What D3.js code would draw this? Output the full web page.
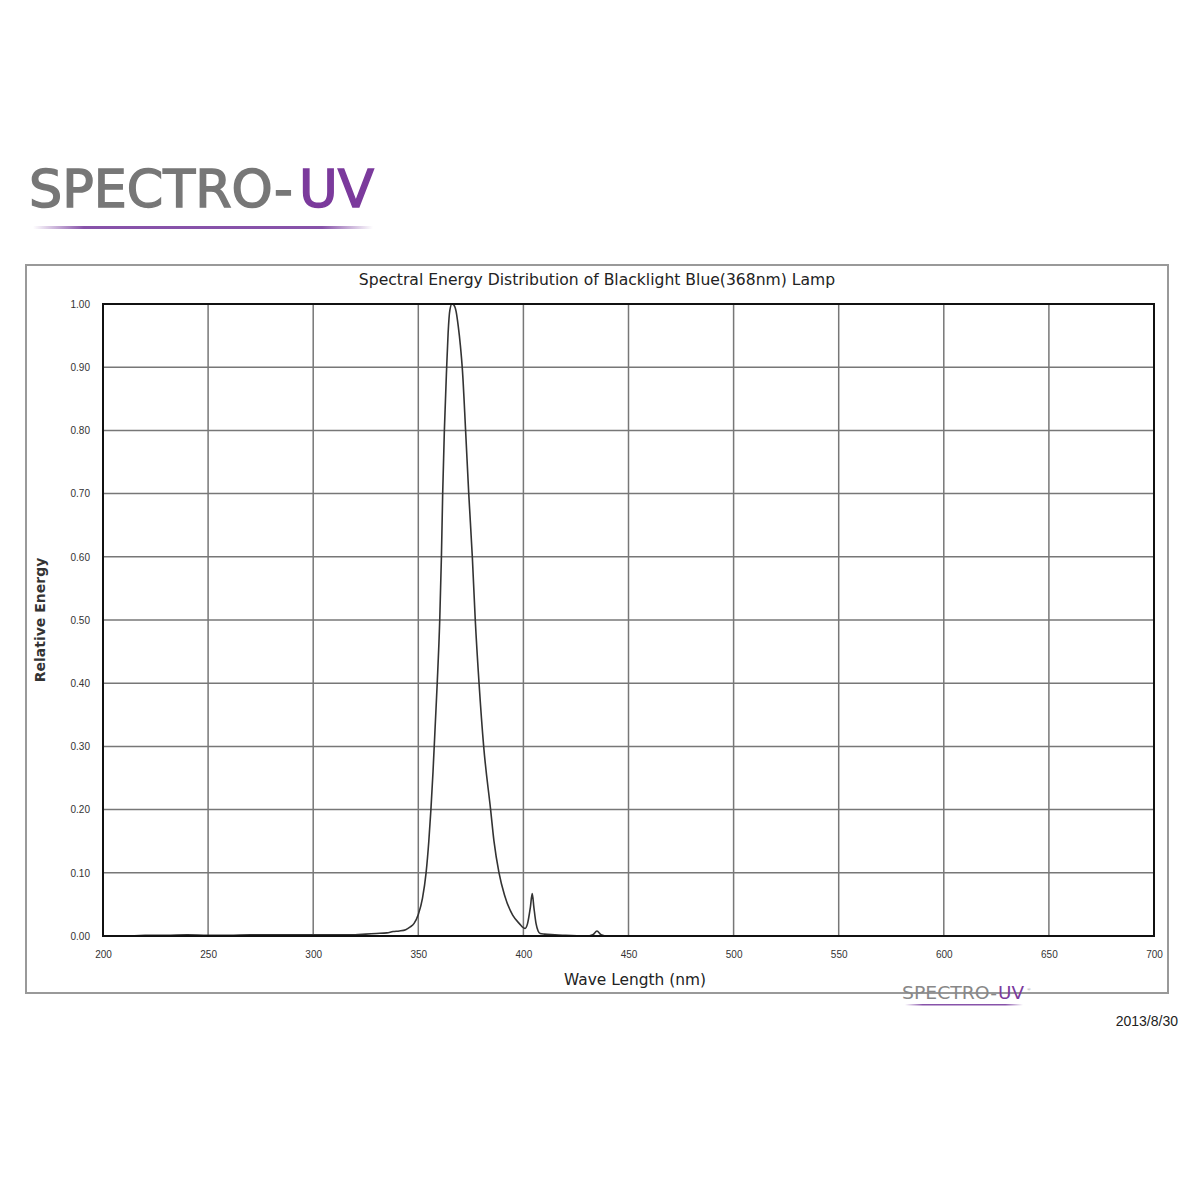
<!DOCTYPE html>
<html><head><meta charset="utf-8">
<script src="https://cdn.jsdelivr.net/npm/d3@7"></script>
<style>body{margin:0;background:#fff;}svg{display:block;}</style>
</head><body>
<script>
// ---- data ----
const wavelengths = [200,210,220,230,240,250,260,270,280,290,300,310,320,325,330,335,338,341,344,346,348,350,352,353.7,355,356,357,358,359,360.2,361,361.6,362.4,363.5,364.2,365,366,367,368,369,370,371,372.5,374,375.7,377.1,378.9,381.1,384.4,386,388.4,391,394.9,398,400.8,402,403.3,404.2,405,406,407,408,410,415,420,430,433,435,437,440,450,500,550,600,650,700];
const energy =      [0,0,0.001,0.001,0.002,0.001,0.001,0.002,0.002,0.002,0.002,0.002,0.002,0.003,0.004,0.005,0.007,0.008,0.010,0.014,0.020,0.034,0.060,0.10,0.15,0.20,0.26,0.33,0.40,0.50,0.60,0.70,0.80,0.90,0.955,0.99,1.00,0.998,0.988,0.965,0.935,0.895,0.80,0.70,0.60,0.50,0.40,0.30,0.20,0.15,0.10,0.065,0.033,0.020,0.012,0.020,0.045,0.067,0.045,0.020,0.008,0.004,0.003,0.002,0.001,0,0.002,0.008,0.002,0,0,0,0,0,0,0];
const xTicks = [200,250,300,350,400,450,500,550,600,650,700];
const yTicks = [0,0.1,0.2,0.3,0.4,0.5,0.6,0.7,0.8,0.9,1.0];
const titleText = "Spectral Energy Distribution of Blacklight Blue(368nm) Lamp";
const xTitle = "Wave Length (nm)";
const yTitle = "Relative Energy";
const dateText = "2013/8/30";

const svg = d3.select("body").append("svg").attr("width",1200).attr("height",1200);
const defs = svg.append("defs");
const grad = defs.append("linearGradient").attr("id","ul");
grad.append("stop").attr("offset","0%").attr("stop-color","#7a3fa0").attr("stop-opacity",0);
grad.append("stop").attr("offset","15%").attr("stop-color","#7a3fa0").attr("stop-opacity",0.9);
grad.append("stop").attr("offset","85%").attr("stop-color","#7a3fa0").attr("stop-opacity",0.9);
grad.append("stop").attr("offset","100%").attr("stop-color","#7a3fa0").attr("stop-opacity",0);

// big logo
svg.append("text").attr("x",29).attr("y",207)
  .attr("font-family","DejaVu Sans").attr("font-size",52)
  .attr("fill","#777").attr("stroke","#777").attr("stroke-width",1.5)
  .attr("textLength",264).attr("lengthAdjust","spacingAndGlyphs").text("SPECTRO-");
svg.append("text").attr("x",299).attr("y",207)
  .attr("font-family","DejaVu Sans").attr("font-size",52)
  .attr("fill","#7b3a9c").attr("stroke","#7b3a9c").attr("stroke-width",1.5)
  .attr("textLength",75).attr("lengthAdjust","spacingAndGlyphs").text("UV");
svg.append("rect").attr("x",33).attr("y",226).attr("width",340).attr("height",3).attr("fill","url(#ul)");

// outer frame
svg.append("rect").attr("x",26).attr("y",265).attr("width",1142).attr("height",728)
  .attr("fill","none").attr("stroke","#999").attr("stroke-width",2);

const L=103,R=1154,T=304,B=936;
const x = d3.scaleLinear().domain([200,700]).range([L,R]);
const y = d3.scaleLinear().domain([0,1]).range([B,T]);

// grid
svg.append("g").selectAll("line.v").data(xTicks).join("line")
  .attr("x1",d=>x(d)).attr("x2",d=>x(d)).attr("y1",T).attr("y2",B)
  .attr("stroke","#777").attr("stroke-width",1.5);
svg.append("g").selectAll("line.h").data(yTicks).join("line")
  .attr("x1",L).attr("x2",R).attr("y1",d=>y(d)).attr("y2",d=>y(d))
  .attr("stroke","#777").attr("stroke-width",1.5);

// curve
const line = d3.line().x((d,i)=>x(wavelengths[i])).y(d=>y(d)).curve(d3.curveMonotoneX);
svg.append("path").datum(energy).attr("d",line).attr("fill","none")
  .attr("stroke","#333").attr("stroke-width",1.6);

// plot border
svg.append("rect").attr("x",L).attr("y",T).attr("width",R-L).attr("height",B-T)
  .attr("fill","none").attr("stroke","#111").attr("stroke-width",2);

// axes tick labels
const xAxis = d3.axisBottom(x).tickValues(xTicks).tickSize(0).tickFormat(d3.format("d"));
const gx = svg.append("g").attr("transform",`translate(0,${B+12})`).call(xAxis);
gx.select(".domain").remove();
gx.selectAll("text").attr("font-family","Liberation Sans").attr("font-size",10).attr("fill","#333");
const yAxis = d3.axisLeft(y).tickValues(yTicks).tickSize(0).tickFormat(d3.format(".2f"));
const gy = svg.append("g").attr("transform",`translate(${L-10},0)`).call(yAxis);
gy.select(".domain").remove();
gy.selectAll("text").attr("font-family","Liberation Sans").attr("font-size",10).attr("fill","#333");

// titles
svg.append("text").attr("x",597).attr("y",285).attr("text-anchor","middle")
  .attr("font-family","DejaVu Sans").attr("font-size",15.6).attr("fill","#222").text(titleText);
svg.append("text").attr("x",635).attr("y",985).attr("text-anchor","middle")
  .attr("font-family","DejaVu Sans").attr("font-size",15.4).attr("fill","#222").text(xTitle);
svg.append("text").attr("transform","translate(45,620) rotate(-90)").attr("text-anchor","middle")
  .attr("font-family","DejaVu Sans").attr("font-size",14).attr("font-weight","bold").attr("fill","#333").text(yTitle);

// small logo
svg.append("text").attr("x",902).attr("y",999)
  .attr("font-family","DejaVu Sans").attr("font-size",17).attr("fill","#888")
  .attr("textLength",95).attr("lengthAdjust","spacingAndGlyphs").text("SPECTRO-");
svg.append("text").attr("x",998).attr("y",999)
  .attr("font-family","DejaVu Sans").attr("font-size",17).attr("fill","#7b3a9c")
  .attr("textLength",26).attr("lengthAdjust","spacingAndGlyphs").text("UV");
svg.append("text").attr("x",1027).attr("y",991).attr("font-size",5).attr("fill","#888").text("®");
svg.append("rect").attr("x",905).attr("y",1004).attr("width",118).attr("height",1.5).attr("fill","url(#ul)");

// date
svg.append("text").attr("x",1178).attr("y",1026).attr("text-anchor","end")
  .attr("font-family","Liberation Sans").attr("font-size",14).attr("fill","#222").text(dateText);
</script>
</body></html>
